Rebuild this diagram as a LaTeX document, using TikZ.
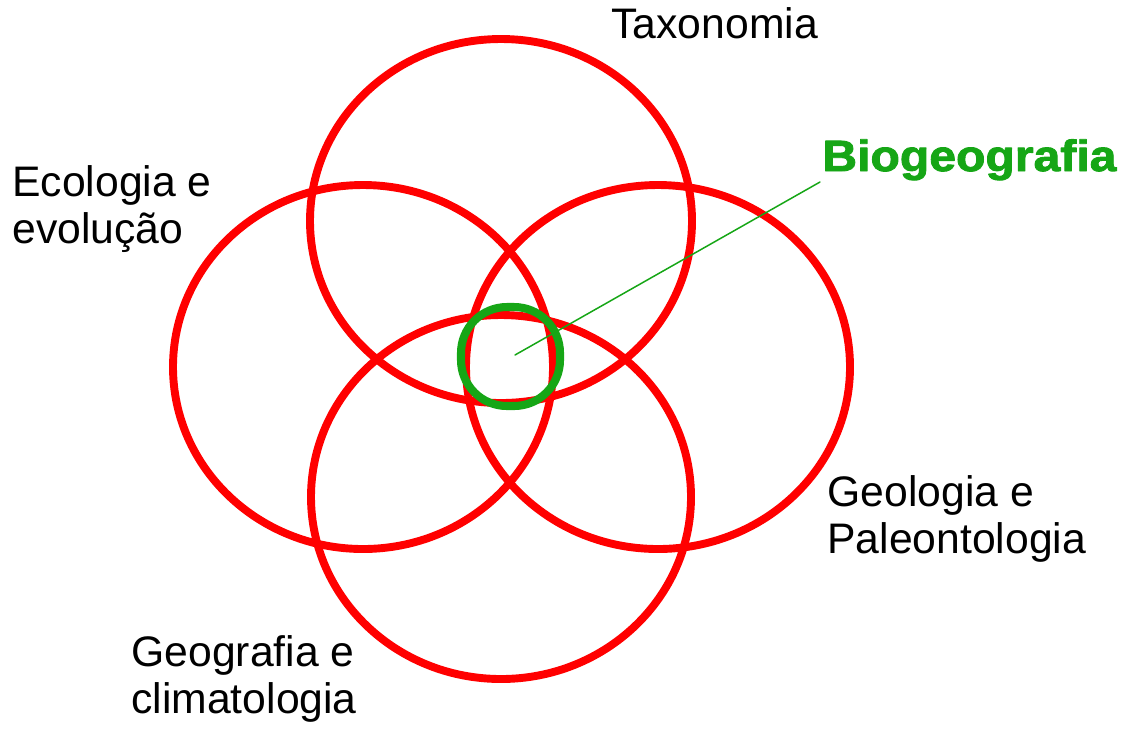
\documentclass[tikz,border=0pt]{standalone}
\usepackage{fontspec}
\setmainfont{Liberation Sans}
\newfontfamily\heavyfont[FakeStretch=1.1,FakeBold=2]{Liberation Sans Bold}
\definecolor{discred}{RGB}{255,0,0}
\definecolor{biogreen}{RGB}{22,166,22}
\begin{document}
\begin{tikzpicture}[
    x=0.02cm, y=-0.02cm,
    line join=round, line cap=round,
    every node/.style={font=\fontsize{24.3}{26.2}\selectfont,inner sep=0pt},
    field/.style={draw=discred,line width=4.5pt},
    core/.style={draw=biogreen,line width=4.6pt,rounded corners=0.92cm,
        minimum size=1.98cm},
    label/.style={anchor=base west,align=left}
]
    \useasboundingbox (0,0) rectangle (1128,728);

    % Four overlapping fields of knowledge.
    \draw[field] (501,221) ellipse [x radius=191, y radius=182];
    \draw[field] (363,367) ellipse [x radius=190, y radius=182];
    \draw[field] (658,367) ellipse [x radius=192, y radius=182];
    \draw[field] (501,497) ellipse [x radius=190, y radius=182];

    % Their common core, with a leader to its name.
    \node[core] (bio) at (510.5,356.5) {};
    \coordinate (biocentre) at (515,355);
    \coordinate (lead) at (820,182);
    \draw[biogreen,line width=0.85pt] (biocentre)--(lead);

    % Two-line labels sit on the baseline of their last line.
    \node[label] (taxo) at (611,38) {Taxonomia};
    \node[label] (eco) at (12,243) {Ecologia e\\evolução};
    \node[label] (geol) at (827,553) {Geologia e\\Paleontologia};
    \node[label] (geog) at (131,713) {Geografia e\\climatologia};
    \node[label,text=biogreen,font=\heavyfont\fontsize{24.9}{28}\selectfont]
        (bioname) at (822,171) {Biogeografia};
\end{tikzpicture}
\end{document}
